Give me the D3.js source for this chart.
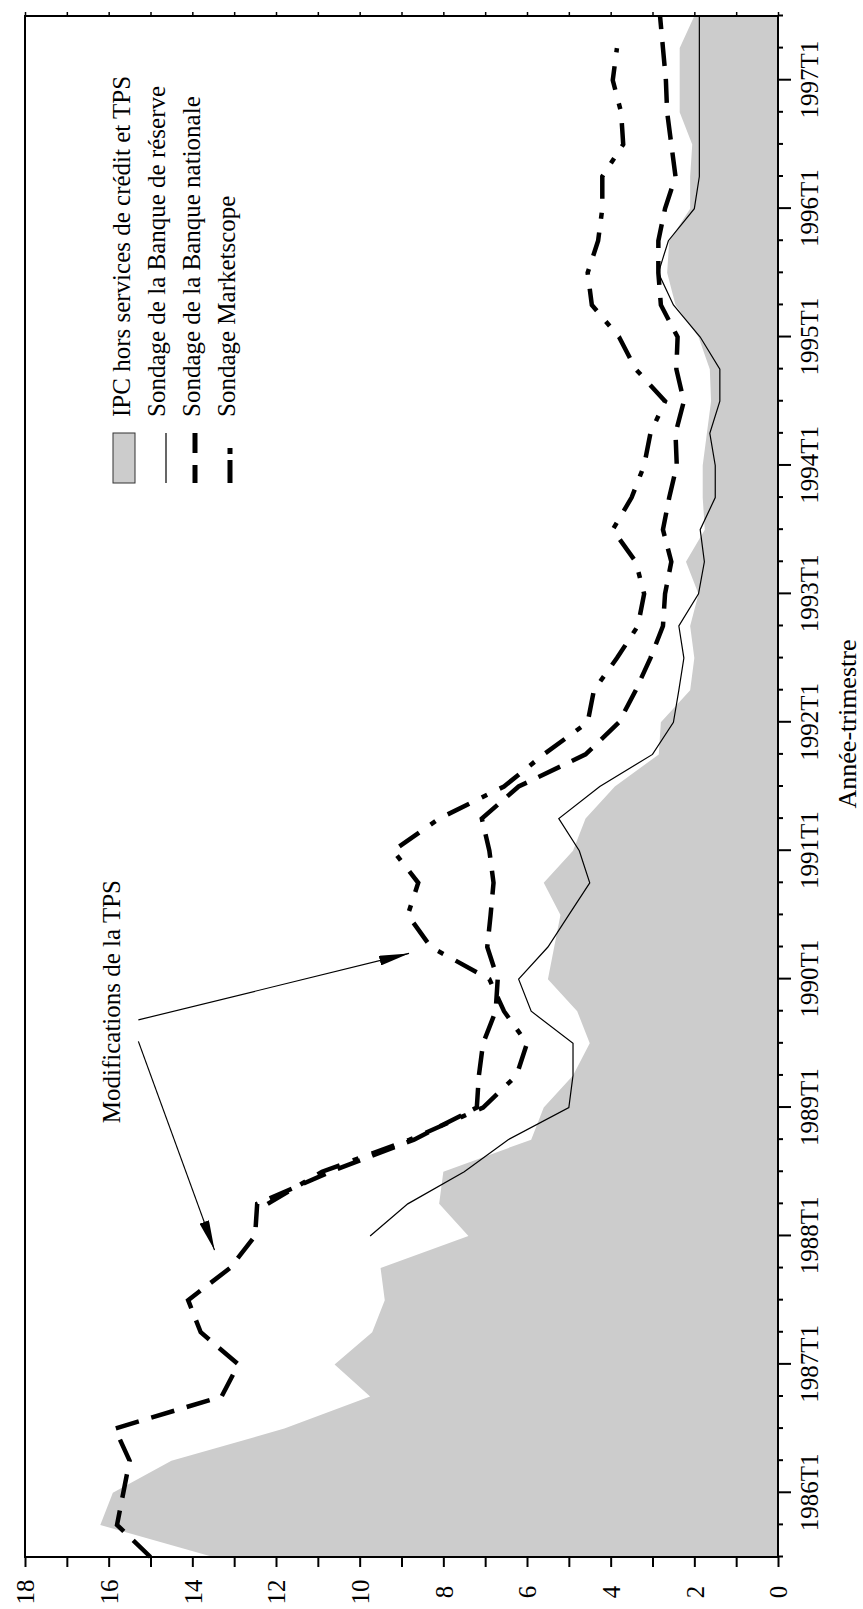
<!DOCTYPE html>
<html><head><meta charset="utf-8">
<script src="https://cdn.jsdelivr.net/npm/d3@7"></script>
<style>
body{margin:0;background:#fff}
text{font-family:"Liberation Serif","Times New Roman",serif;fill:#000}
</style></head>
<body><svg id="c" width="863" height="1609"></svg>
<script>
// Quarters (categories)
const quarterLabels = ["1985T3","1985T4",
"1986T1","1986T2","1986T3","1986T4","1987T1","1987T2","1987T3","1987T4",
"1988T1","1988T2","1988T3","1988T4","1989T1","1989T2","1989T3","1989T4",
"1990T1","1990T2","1990T3","1990T4","1991T1","1991T2","1991T3","1991T4",
"1992T1","1992T2","1992T3","1992T4","1993T1","1993T2","1993T3","1993T4",
"1994T1","1994T2","1994T3","1994T4","1995T1","1995T2","1995T3","1995T4",
"1996T1","1996T2","1996T3","1996T4","1997T1","1997T2","1997T3"];
// IPC hors services de crédit et TPS (area)
const ipc = [13.5,16.2,15.9,14.5,11.8,9.75,10.6,9.7,9.4,9.5,7.4,8.1,8.0,5.9,5.6,4.9,4.5,4.8,5.5,5.35,5.2,5.6,4.9,4.6,3.9,2.85,2.8,2.1,2.0,2.1,1.9,2.2,1.75,1.8,1.8,1.7,1.6,1.63,1.9,2.45,2.65,2.6,2.1,2.1,2.05,2.35,2.35,2.35,2.0];
// Sondage de la Banque de réserve (thin line)
const reserve = [null,null,null,null,null,null,null,null,null,null,9.75,8.85,7.5,6.45,5.0,4.9,4.9,5.9,6.2,5.5,5.0,4.5,4.75,5.24,4.26,3.0,2.5,2.37,2.25,2.37,1.9,1.76,1.86,1.5,1.5,1.63,1.39,1.39,1.86,2.5,2.86,2.62,2.0,1.88,1.88,1.88,1.88,1.88,1.88];
// Sondage de la Banque nationale (dashed)
const nationale = [15.0,15.8,15.65,15.5,15.85,13.3,12.9,13.8,14.1,13.1,12.5,12.45,10.7,8.7,7.2,7.15,7.05,6.75,6.7,6.95,6.87,6.8,6.9,7.08,6.2,4.6,3.8,3.4,3.05,2.75,2.7,2.55,2.75,2.6,2.42,2.45,2.25,2.43,2.4,2.8,2.86,2.86,2.7,2.45,2.55,2.65,2.68,2.75,2.82];
// Sondage Marketscope (dash-dot)
const marketscope = [null,null,null,null,null,null,null,null,null,null,null,12.2,10.9,8.8,7.05,6.25,6.0,6.55,6.9,8.3,8.85,8.6,9.2,8.1,6.55,5.6,4.55,4.4,3.85,3.35,3.2,3.4,3.95,3.5,3.2,3.05,2.7,3.4,3.8,4.45,4.55,4.3,4.2,4.2,3.7,3.75,3.95,3.85,null];
const valueTicks = [0,1,2,3,4,5,6,7,8,9,10,11,12,13,14,15,16,17,18];
const legendLabels = ["IPC hors services de crédit et TPS","Sondage de la Banque de réserve","Sondage de la Banque nationale","Sondage Marketscope"];
// Annotation: text and arrows in data units [quarter index, value]
const annotText = "Modifications de la TPS";
const annotPos = [17.3, 15.73];
const annotArrows = [[[16.73,15.29],[18.8,8.82]],[[16.06,15.29],[9.56,13.47]]];

const W = 1609, H = 863;
const svg = d3.select("#c");
const g = svg.append("g").attr("transform", `translate(0,${W}) rotate(-90)`);
const x = d3.scaleLinear().domain([0, quarterLabels.length - 1]).range([52, 1593]);
const y = d3.scaleLinear().domain([0, 18]).range([778, 25]);
const FS = 25;

// area
const area = d3.area().x((d,i)=>x(i)).y0(y(0)).y1(d=>y(d));
g.append("path").datum(ipc).attr("d", area).attr("fill", "#cccccc");

const line = d3.line().defined(d=>d!=null).x((d,i)=>x(i)).y(d=>y(d));
g.append("path").datum(reserve).attr("d", line).attr("fill","none").attr("stroke","#000").attr("stroke-width",1.2);
g.append("path").datum(nationale).attr("d", line).attr("fill","none").attr("stroke","#000").attr("stroke-width",4.5).attr("stroke-dasharray","24,13");
g.append("path").datum(marketscope).attr("d", line).attr("fill","none").attr("stroke","#000").attr("stroke-width",4.5).attr("stroke-dasharray","24,14,6,14");

// frame
g.append("rect").attr("x", x(0)).attr("y", y(18)).attr("width", x(48)-x(0)).attr("height", y(0)-y(18))
  .attr("fill","none").attr("stroke","#000").attr("stroke-width",2);

// time axis (bottom in unrotated frame)
const ax = g.append("g").attr("transform",`translate(0,${y(0)})`)
  .call(d3.axisBottom(x).tickValues(quarterLabels.map((d,i)=>i)).tickSize(5)
  .tickFormat(i => quarterLabels[i].endsWith("T1") ? quarterLabels[i] : ""));
ax.select(".domain").remove();
ax.selectAll(".tick line").attr("stroke","#000").attr("stroke-width",2)
  .attr("y2", i => quarterLabels[i].endsWith("T1") ? 13 : 5);
ax.selectAll(".tick text").attr("y",40).attr("dy",0).style("font-size",FS+"px").attr("font-family",null);

// value axis (left in unrotated frame)
const ay = g.append("g").attr("transform",`translate(${x(0)},0)`)
  .call(d3.axisLeft(y).tickValues(valueTicks).tickSize(10).tickFormat(d => d%2===0 ? d : ""));
ay.select(".domain").remove();
ay.selectAll(".tick line").attr("stroke","#000").attr("stroke-width",2);
ay.selectAll(".tick text").attr("x",-35).attr("dy","0.35em").attr("text-anchor","middle").style("font-size",FS+"px").attr("font-family",null);

// opposite value ticks
const ay2 = g.append("g").attr("transform",`translate(${x(48)},0)`)
  .call(d3.axisRight(y).tickValues(valueTicks).tickSize(4).tickFormat(""));
ay2.select(".domain").remove();
ay2.selectAll(".tick line").attr("stroke","#000").attr("stroke-width",1.5);

svg.selectAll(".tick text").attr("fill","#000");

// axis title
g.append("text").attr("x", 885).attr("y", 856).attr("text-anchor","middle").style("font-size","26px").text("Année-trimestre");

// legend
const lg = g.append("g");
const lu0 = 1126, lu1 = 1176, ltx = 1192;
const rowY = [130, 164.5, 199.5, 234.5];
lg.append("rect").attr("x", lu0).attr("y", 113).attr("width", lu1-lu0).attr("height", 22).attr("fill","#cccccc").attr("stroke","#333").attr("stroke-width",1);
lg.append("line").attr("x1",lu0).attr("x2",lu1).attr("y1",166).attr("y2",166).attr("stroke","#000").attr("stroke-width",1.2);
lg.append("line").attr("x1",lu0).attr("x2",lu1).attr("y1",195).attr("y2",195).attr("stroke","#000").attr("stroke-width",5).attr("stroke-dasharray","18,12,20");
lg.append("line").attr("x1",lu0).attr("x2",lu1).attr("y1",230).attr("y2",230).attr("stroke","#000").attr("stroke-width",5).attr("stroke-dasharray","23,6,6,30");
legendLabels.forEach((t,i)=>{
  lg.append("text").attr("x", ltx).attr("y", rowY[i]).style("font-size",FS+"px").text(t);
});

// annotation
g.append("text").attr("x", x(annotPos[0])).attr("y", y(annotPos[1])).attr("text-anchor","middle").style("font-size",FS+"px").text(annotText);
const defs = svg.append("defs");
defs.append("marker").attr("id","ah").attr("viewBox","0 0 30 10").attr("refX",30).attr("refY",5)
  .attr("markerWidth",30).attr("markerHeight",10).attr("markerUnits","userSpaceOnUse").attr("orient","auto")
  .append("path").attr("d","M0,0 L30,5 L0,10 Z").attr("fill","#000");
annotArrows.forEach(a=>{
  g.append("line").attr("x1",x(a[0][0])).attr("y1",y(a[0][1])).attr("x2",x(a[1][0])).attr("y2",y(a[1][1]))
   .attr("stroke","#000").attr("stroke-width",1.2).attr("marker-end","url(#ah)");
});
</script></body></html>
